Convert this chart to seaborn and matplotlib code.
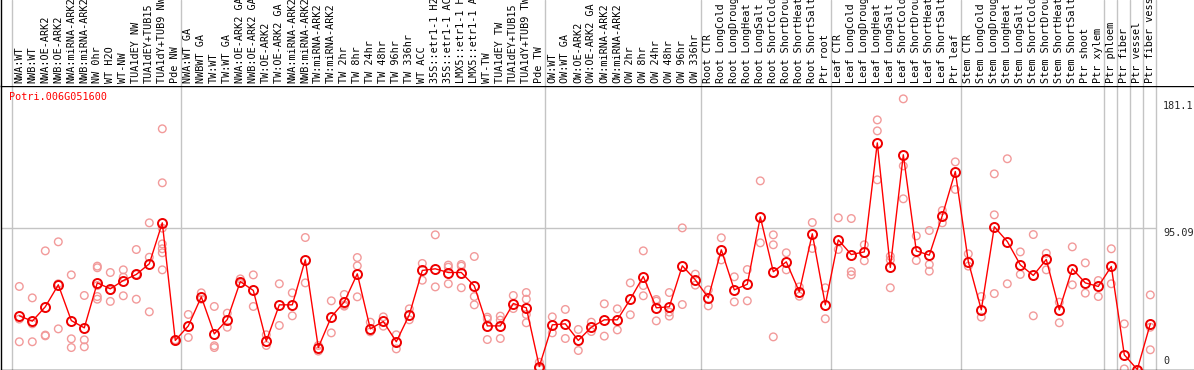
import numpy as np
import pandas as pd
import matplotlib
matplotlib.use("Agg")
import matplotlib.pyplot as plt
import seaborn as sns

# ---- data ----
gene = "Potri.006G051600"

samples = [
    "NWA:WT", "NWB:WT", "NWA:OE-ARK2", "NWB:OE-ARK2", "NWA:miRNA-ARK2", "NWB:miRNA-ARK2",
    "NW 0hr", "WT H2O", "WT-NW", "TUA1dEY NW", "TUA1dEY+TUB15", "TUA1dY+TUB9 NW", "Pde NW",
    "NWA:WT GA", "NWBWT GA", "TW:WT", "TW:WT GA", "NWA:OE-ARK2 GA", "NWB:OE-ARK2 GA",
    "TW:OE-ARK2", "TW:OE-ARK2 GA", "NWA:miRNA-ARK2", "NWB:miRNA-ARK2", "TW:miRNA-ARK2",
    "TW:miRNA-ARK2", "TW 2hr", "TW 8hr", "TW 24hr", "TW 48hr", "TW 96hr", "TW 336hr", "WT ACC",
    "35S::etr1-1 H2O", "35S::etr1-1 ACC", "LMX5::etr1-1 H2O", "LMX5::etr1-1 ACC", "WT-TW",
    "TUA1dEY TW", "TUA1dEY+TUB15", "TUA1dY+TUB9 TW", "Pde TW",
    "OW:WT", "OW:WT GA", "OW:OE-ARK2", "OW:OE-ARK2 GA", "OW:miRNA-ARK2", "OW:miRNA-ARK2",
    "OW 2hr", "OW 8hr", "OW 24hr", "OW 48hr", "OW 96hr", "OW 336hr",
    "Root CTR", "Root LongCold", "Root LongDrought", "Root LongHeat", "Root LongSalt",
    "Root ShortCold", "Root ShortDrought", "Root ShortHeat", "Root ShortSalt", "Ptr root",
    "Leaf CTR", "Leaf LongCold", "Leaf LongDrought", "Leaf LongHeat", "Leaf LongSalt",
    "Leaf ShortCold", "Leaf ShortDrought", "Leaf ShortHeat", "Leaf ShortSalt", "Ptr leaf",
    "Stem CTR", "Stem LongCold", "Stem LongDrought", "Stem LongHeat", "Stem LongSalt",
    "Stem ShortCold", "Stem ShortDrought", "Stem ShortHeat", "Stem ShortSalt", "Ptr shoot",
    "Ptr xylem", "Ptr phloem", "Ptr fiber", "Ptr vessel", "Ptr fiber vessel",
]

means = [
    36.2, 32.6, 42.3, 57.1, 33.0, 28.1, 58.4, 54.4, 60.0, 64.1, 71.3, 98.9, 19.6,
    29.4, 49.0, 24.0, 33.7, 59.3, 53.3, 19.1, 43.6, 43.6, 74.0, 14.8, 35.5, 45.6,
    64.5, 27.4, 32.4, 18.7, 36.9, 66.8, 67.9, 65.4, 65.4, 56.4, 29.4, 29.4, 44.5,
    41.6, 2.0,
    30.1, 30.8, 19.6, 28.5, 33.5, 33.5, 47.4, 62.7, 41.6, 42.3, 69.9, 60.5,
    48.3, 80.7, 53.7, 57.5, 102.9, 65.9, 72.6, 52.4, 91.5, 43.6,
    87.4, 77.5, 79.3, 152.8, 68.8, 144.8, 80.0, 77.1, 103.8, 133.5,
    72.8, 40.2, 96.2, 86.3, 70.6, 63.4, 74.2, 40.2, 67.9, 58.4, 56.0,
    69.5, 9.9, 0.0, 30.8,
]

replicates = [
    [56.0, 34.0, 18.7], [48.3, 30.8, 18.7], [80.0, 23.2, 22.7], [86.1, 27.4, 57.8],
    [63.8, 20.7, 14.8], [49.9, 20.0, 15.3], [69.7, 68.6, 56.6, 49.2, 47.4],
    [65.4, 53.3, 45.9], [67.2, 62.3, 49.7], [80.9, 47.4, 64.1], [98.9, 75.7, 38.9],
    [162.3, 125.9, 95.3, 84.7, 81.4, 78.7, 67.2], [20.0, 19.1],
    [37.1, 21.6], [51.7, 47.4], [42.5, 16.0, 14.8], [38.0, 28.5], [61.1, 58.0],
    [63.8, 42.5], [23.4, 16.2], [57.8, 29.7], [51.7, 36.2], [89.0, 58.4],
    [16.2, 12.4], [46.3, 24.7], [50.6, 43.6, 42.7], [75.5, 69.9, 49.0], [31.9, 25.4],
    [35.5, 29.2], [23.4, 13.9], [40.9, 33.5], [71.5, 60.2], [90.8, 55.7],
    [70.4, 69.0, 57.8], [70.8, 69.7, 55.1], [76.2, 49.2, 43.6], [35.3, 34.0, 20.2],
    [36.0, 33.3, 20.9], [49.9, 41.1], [51.9, 47.4, 37.1, 31.5], [4.9, 1.0],
    [35.5, 24.7], [40.5, 20.9], [27.0, 12.8], [31.9, 25.6], [44.3, 22.5], [40.9, 26.7],
    [58.4, 36.9], [80.0, 56.6, 49.7], [47.2, 46.1, 32.8], [51.9, 38.7, 36.0],
    [95.5, 43.8], [64.3, 56.9],
    [53.7, 42.9], [88.8, 73.9], [62.5, 45.6], [67.4, 46.3], [127.2, 85.4],
    [90.8, 84.1, 22.0], [78.7, 67.2], [55.7, 49.4], [99.1, 81.6], [55.1, 34.2],
    [102.3, 80.9], [101.8, 66.1, 63.8], [84.1, 73.3], [168.3, 160.9, 127.9],
    [76.4, 73.9, 55.1], [182.5, 137.3, 115.1], [90.1, 73.5], [93.7, 70.8, 66.3],
    [107.2, 98.9], [140.0, 121.4],
    [78.0, 69.7], [49.2, 35.3], [131.9, 104.3, 51.2], [142.1, 57.8], [79.3, 64.1],
    [91.0, 36.2], [78.4, 67.2], [45.4, 31.5], [82.7, 57.1], [71.9, 51.5], [60.0, 49.2],
    [81.4, 57.8], [30.8, 0.4], [0.0], [50.3, 28.5, 13.3],
]

# last sample index of each group
group_ends = [12, 40, 52, 62, 72, 83, 84, 85, 86, 87]
tick_values = ["181.1", "95.09", "0"]

# ---- frames ----
idx = np.arange(len(samples))
mean_df = pd.DataFrame({"pos": idx, "value": means})
rep_df = pd.DataFrame(
    [(i, v) for i, vals in enumerate(replicates) for v in vals],
    columns=["pos", "value"],
)

sns.set_style("white")
plt.rcParams["font.family"] = ["DejaVu Sans Mono", "DejaVu Sans"]

W, H = 1194, 370
fig = plt.figure(figsize=(W / 100, H / 100), dpi=100)

xlim = ((1 - 19.3) / 13, (W - 19.3) / 13)
top_px = 85.5
ax = fig.add_axes([1 / W, 0.5 / H, 1 - 1 / W, (H - top_px - 0.5) / H])
ax_lab = fig.add_axes([1 / W, (H - top_px) / H, 1 - 1 / W, top_px / H])

grey = "#c4c4c4"
for a in (ax, ax_lab):
    a.set_xlim(*xlim)
    for e in [-1] + group_ends:
        a.axvline(e + 0.4, color=grey, lw=1.0, zorder=0)
    a.set_xticks([])
    a.set_yticks([])
    a.set_xlabel("")
    a.set_ylabel("")

ymax = 191.5
ax.set_ylim(0, ymax)
ax.hlines(float(tick_values[1]), xlim[0], group_ends[-1] + 0.4, color=grey, lw=1.0, zorder=0)

sns.scatterplot(data=rep_df, x="pos", y="value", ax=ax, marker="o",
                facecolor="none", edgecolor="#f29a9a", linewidth=1.0, s=30,
                clip_on=False, zorder=2)
sns.lineplot(data=mean_df, x="pos", y="value", ax=ax, color="#ff0000", lw=1.0,
             marker="o", markersize=6.5, markerfacecolor="none",
             markeredgecolor="#ee0000", markeredgewidth=1.4, clip_on=False, zorder=3)
ax.set_xlim(*xlim)
ax.set_ylim(0, ymax)
ax.set_xlabel("")
ax.set_ylabel("")

for s in ["left", "bottom", "top"]:
    ax.spines[s].set_visible(True)
    ax.spines[s].set_color("black")
    ax.spines[s].set_linewidth(1.0)
ax.spines["right"].set_visible(False)

ax_lab.set_ylim(0, top_px)
for s in ["right", "top", "bottom"]:
    ax_lab.spines[s].set_visible(False)
ax_lab.spines["left"].set_color("black")
ax_lab.spines["left"].set_linewidth(1.0)

for i, name in enumerate(samples):
    ax_lab.text(i, 2.5, name, rotation=90, ha="center", va="bottom",
                fontsize=7.3, color="black", clip_on=True)

# right-hand value labels
lab_x = (1163 - 19.3) / 13
ax.text(lab_x, float(tick_values[0]), tick_values[0], ha="left", va="top",
        fontsize=7.3, clip_on=False)
ax.text(lab_x, float(tick_values[1]), tick_values[1], ha="left", va="top",
        fontsize=7.3, clip_on=False)
ax.text(lab_x, 2.5, tick_values[2], ha="left", va="bottom",
        fontsize=7.3, clip_on=False)

fig.text(9 / W, 1 - 97 / H, gene, color="red", fontsize=7.3, ha="left", va="center")

fig.savefig("out.png", dpi=100)
